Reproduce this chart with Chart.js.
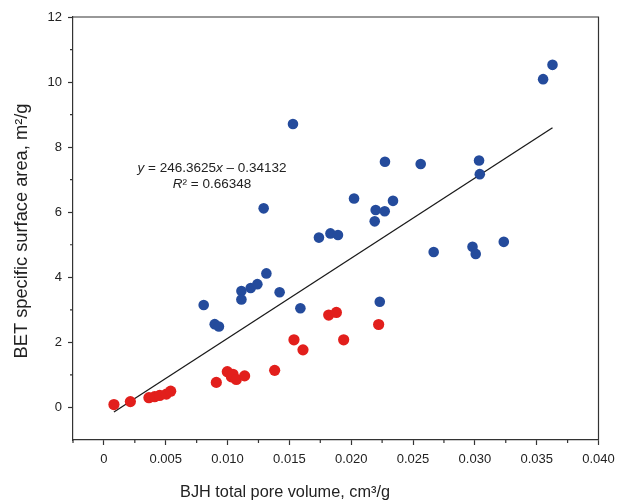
<!DOCTYPE html>
<html>
<head>
<meta charset="utf-8">
<script src="https://cdn.jsdelivr.net/npm/chart.js@4.4.1/dist/chart.umd.min.js"></script>
<style>
  html, body { margin: 0; padding: 0; background: #fff; }
  #wrap { width: 617px; height: 502px; }
</style>
</head>
<body>
<div id="wrap"><canvas id="grafico" width="617" height="502"></canvas></div>
<script>
// pore volume (cm3/g) vs BET surface area (m2/g)
const azulX = [0.00807, 0.00896, 0.00930, 0.01112, 0.01112, 0.01187, 0.01241, 0.01314, 0.01421, 0.01589,
               0.01292, 0.01529, 0.01739, 0.01832, 0.01893, 0.02023, 0.02190, 0.02198, 0.02271, 0.02338,
               0.02273, 0.02231, 0.02562, 0.02667, 0.02981, 0.03007, 0.03034, 0.03040, 0.03234, 0.03552, 0.03628];
const azulY = [3.15, 2.56, 2.49, 3.58, 3.32, 3.67, 3.79, 4.12, 3.54, 3.05,
               6.12, 8.71, 5.22, 5.35, 5.30, 6.42, 5.72, 6.07, 6.03, 6.35,
               7.55, 3.25, 7.48, 4.78, 4.94, 4.72, 7.59, 7.17, 5.09, 10.09, 10.53];

const vermelhoX = [0.00081, 0.00214, 0.00364, 0.00410, 0.00451, 0.00505, 0.00540, 0.00909, 0.00998, 0.01031,
                   0.01044, 0.01071, 0.01138, 0.01381, 0.01537, 0.01610, 0.01818, 0.01880, 0.01939, 0.02222];
const vermelhoY = [0.09, 0.18, 0.30, 0.33, 0.37, 0.41, 0.50, 0.77, 1.10, 0.94,
                   1.02, 0.86, 0.97, 1.14, 2.08, 1.77, 2.84, 2.92, 2.08, 2.55];

// linear fit over all points
const inclinacao = 246.3625;
const intercepto = -0.34132;
const r2 = 0.66348;

const ticksX = [0, 0.005, 0.010, 0.015, 0.020, 0.025, 0.030, 0.035, 0.040];
const ticksY = [0, 2, 4, 6, 8, 10, 12];

const corAzul = '#244b9c';
const corVermelho = '#e21f1c';
const corEixo = '#333';
const fonte = '"Liberation Sans", Arial, sans-serif';

const pares = (xs, ys) => xs.map((x, i) => ({ x, y: ys[i] }));

const todosX = azulX.concat(vermelhoX);
const xMin = Math.min(...todosX);
const xMax = Math.max(...todosX);
const linhaAjuste = [
    { x: xMin, y: inclinacao * xMin + intercepto },
    { x: xMax, y: inclinacao * xMax + intercepto }
];

// minor ticks, frame, axis titles and the fit equation
const extras = {
    id: 'extras',
    afterDraw(chart) {
        const { ctx, chartArea: a, scales: { x, y } } = chart;
        ctx.save();
        ctx.strokeStyle = corEixo;
        ctx.lineWidth = 1.2;

        ctx.beginPath();
        ctx.moveTo(a.left, a.top);
        ctx.lineTo(a.right, a.top);
        ctx.lineTo(a.right, a.bottom);
        ctx.stroke();

        ctx.beginPath();
        for (let i = 0; i < ticksX.length; i++) {
            const px = x.getPixelForValue(ticksX[i] - 0.0025);
            ctx.moveTo(px, a.bottom);
            ctx.lineTo(px, a.bottom + 3);
        }
        for (let i = 0; i < ticksY.length; i++) {
            const v = ticksY[i] - 1;
            if (v > y.min) {
                const py = y.getPixelForValue(v);
                ctx.moveTo(a.left, py);
                ctx.lineTo(a.left - 3, py);
            }
        }
        ctx.stroke();

        ctx.fillStyle = '#222';
        ctx.textAlign = 'center';
        ctx.textBaseline = 'alphabetic';
        ctx.font = '16.3px ' + fonte;
        ctx.fillText('BJH total pore volume, cm³/g', 285, 497);

        ctx.save();
        ctx.font = '18.3px ' + fonte;
        ctx.translate(27, 231);
        ctx.rotate(-Math.PI / 2);
        ctx.fillText('BET specific surface area, m²/g', 0, 0);
        ctx.restore();

        // equation lines, centred, with italic variables
        const escrever = (partes, cx, base) => {
            const fontes = partes.map(([, it]) => (it ? 'italic ' : '') + '13.5px ' + fonte);
            const larguras = partes.map(([t], i) => { ctx.font = fontes[i]; return ctx.measureText(t).width; });
            let px = cx - larguras.reduce((s, w) => s + w, 0) / 2;
            ctx.textAlign = 'left';
            partes.forEach(([t], i) => {
                ctx.font = fontes[i];
                ctx.fillText(t, px, base);
                px += larguras[i];
            });
        };
        escrever([['y', true], [' = ' + inclinacao, false], ['x', true], [' – ' + Math.abs(intercepto), false]], 212, 172);
        escrever([['R', true], ['² = ' + r2, false]], 212, 188);
        ctx.restore();
    }
};

document.addEventListener('DOMContentLoaded', () => {
    const ctx = document.getElementById('grafico');
    new Chart(ctx, {
        type: 'scatter',
        data: {
            datasets: [
                { label: 'azul', data: pares(azulX, azulY), backgroundColor: corAzul, borderWidth: 0, pointRadius: 5.3, order: 1 },
                { label: 'vermelho', data: pares(vermelhoX, vermelhoY), backgroundColor: corVermelho, borderWidth: 0, pointRadius: 5.6, order: 2 },
                { type: 'line', label: 'ajuste', data: linhaAjuste, borderColor: '#1a1a1a', borderWidth: 1.3, pointRadius: 0, fill: false, order: 3 }
            ]
        },
        options: {
            responsive: false,
            animation: false,
            events: [],
            layout: { padding: { left: 0, top: 17, right: 18.5, bottom: 0 } },
            plugins: { legend: { display: false }, tooltip: { enabled: false } },
            scales: {
                x: {
                    type: 'linear', min: -0.0025, max: 0.040,
                    afterBuildTicks: s => { s.ticks = ticksX.map(v => ({ value: v })); },
                    afterFit: s => { s.height = 62; s.paddingLeft = 0; s.paddingRight = 0; },
                    grid: { drawOnChartArea: false, drawTicks: true, tickLength: 5, color: corEixo, tickWidth: 1.2 },
                    border: { display: true, color: corEixo, width: 1.2 },
                    ticks: {
                        color: '#222', padding: 7, maxRotation: 0, autoSkip: false,
                        font: { family: fonte, size: 13 },
                        callback: v => v === 0 ? '0' : v.toFixed(3)
                    }
                },
                y: {
                    type: 'linear', min: -1, max: 12,
                    afterBuildTicks: s => { s.ticks = ticksY.map(v => ({ value: v })); },
                    afterFit: s => { s.width = 73; s.paddingTop = 0; s.paddingBottom = 0; },
                    grid: { drawOnChartArea: false, drawTicks: true, tickLength: 5, color: corEixo, tickWidth: 1.2 },
                    border: { display: true, color: corEixo, width: 1.2 },
                    ticks: {
                        color: '#222', padding: 6, autoSkip: false,
                        font: { family: fonte, size: 13 }
                    }
                }
            }
        },
        plugins: [extras]
    });
});
</script>
</body>
</html>
